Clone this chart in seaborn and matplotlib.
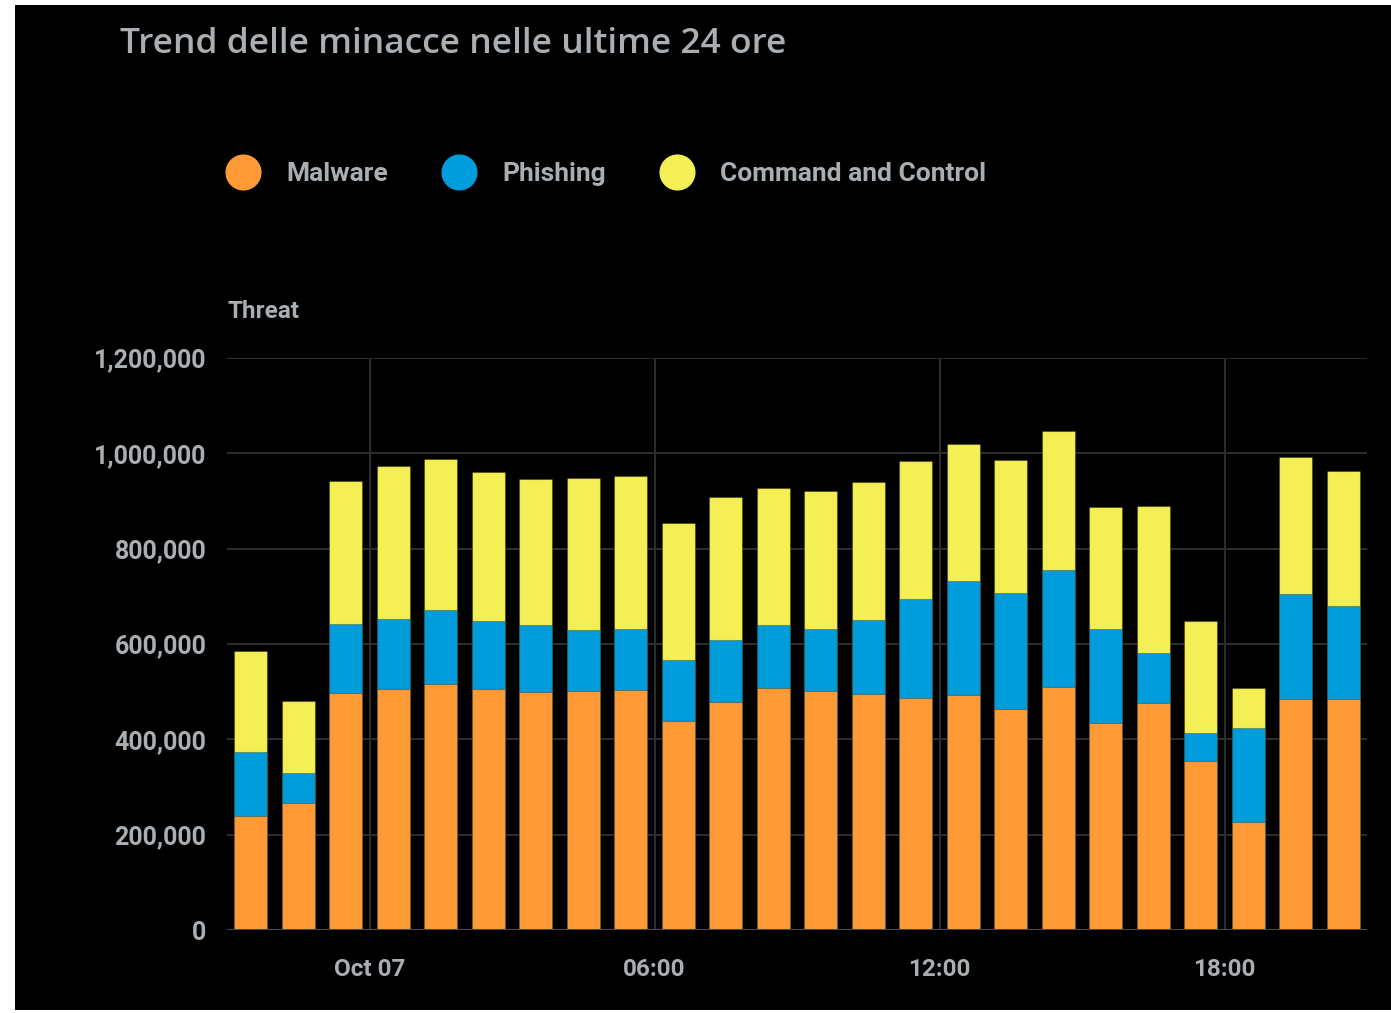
import matplotlib
matplotlib.use("Agg")
import matplotlib.pyplot as plt
from matplotlib.lines import Line2D
from matplotlib.patches import Rectangle
import seaborn as sns
import pandas as pd
import numpy as np

# ---- data ----
hours = ["21:00", "22:00", "23:00", "00:00", "01:00", "02:00", "03:00", "04:00",
         "05:00", "06:00", "07:00", "08:00", "09:00", "10:00", "11:00", "12:00",
         "13:00", "14:00", "15:00", "16:00", "17:00", "18:00", "19:00", "20:00"]
malware = [239000, 266000, 497000, 506000, 516000, 506000, 499000, 501000,
           503000, 438000, 478000, 508000, 501000, 495000, 487000, 493000,
           464000, 510000, 434000, 476000, 355000, 227000, 485000, 485000]
phishing = [134000, 63000, 146000, 146000, 155000, 142000, 141000, 128000,
            128000, 128000, 130000, 132000, 130000, 155000, 207000, 239000,
            243000, 245000, 197000, 105000, 58000, 197000, 220000, 195000]
cnc = [212000, 151000, 300000, 321000, 317000, 313000, 306000, 319000,
       321000, 288000, 300000, 287000, 290000, 290000, 290000, 288000,
       279000, 292000, 256000, 309000, 235000, 84000, 287000, 283000]
series_names = ["Malware", "Phishing", "Command and Control"]
series_colors = ["#FF9A36", "#009CDB", "#F4EF55"]
y_ticks = [0, 200000, 400000, 600000, 800000, 1000000, 1200000]
x_tick_pos = [2.5, 8.5, 14.5, 20.5]
x_tick_labels = ["Oct 07", "06:00", "12:00", "18:00"]
title = "Trend delle minacce nelle ultime 24 ore"
y_label = "Threat"

df = pd.DataFrame({"hour": hours, "Malware": malware,
                   "Phishing": phishing, "Command and Control": cnc})
df["mp"] = df["Malware"] + df["Phishing"]
df["total"] = df["mp"] + df["Command and Control"]

sns.set_theme(style="dark")
plt.rcParams["font.family"] = ["Roboto", "DejaVu Sans"]
TXT = "#A9AEB3"

W, H = 1391, 1013
fig = plt.figure(figsize=(W / 100, H / 100), dpi=100, facecolor="white")
fig.patches.append(Rectangle((15 / W, 3 / H), 1 - 15 / W, 1 - 8 / H,
                             transform=fig.transFigure, facecolor="black",
                             edgecolor="none", zorder=-10))

ax = fig.add_axes([227 / W, 83 / H, (1367 - 227) / W, (930 - 358) / H])
ax.set_facecolor("black")

order = hours
for col, c in [("total", series_colors[2]), ("mp", series_colors[1]),
               ("Malware", series_colors[0])]:
    sns.barplot(data=df, x="hour", y=col, order=order, color=c, width=0.7,
                saturation=1, edgecolor=(0, 0, 0, 0.25), linewidth=0.8,
                ax=ax, zorder=3)

ax.set_xlim(-0.5, 23.5)
ax.set_ylim(0, 1200000)
ax.set_yticks(y_ticks)
ax.set_yticklabels([f"{v:,}" for v in y_ticks])
ax.set_xticks(x_tick_pos)
ax.set_xticklabels(x_tick_labels)
ax.set_xlabel("")
ax.set_ylabel("")
ax.tick_params(axis="both", length=0, colors=TXT)
ax.tick_params(axis="y", pad=15, labelsize=18)
ax.tick_params(axis="x", pad=20, labelsize=17.5)
for lab in ax.get_xticklabels() + ax.get_yticklabels():
    lab.set_fontweight("bold")
    lab.set_color(TXT)

for s in ax.spines.values():
    s.set_visible(False)
for v in y_ticks[1:]:
    ax.axhline(v, color="#2C2C2C", lw=1.5, zorder=1)
ax.axhline(0, color="#4A4A4A", lw=1.5, zorder=4)
for xp in x_tick_pos:
    ax.axvline(xp, color="#2C2C2C", lw=1.5, zorder=1)

fig.text(120 / W, 1 - 44 / H, title, fontsize=25.5, color=TXT, va="center",
         ha="left", fontweight="semibold", family=["Open Sans", "DejaVu Sans"])
fig.text(228 / W, 1 - 311 / H, y_label, fontsize=17.5, color=TXT,
         fontweight="bold", va="center", ha="left")

handles = [Line2D([], [], marker="o", linestyle="", markersize=25,
                  markerfacecolor=c, markeredgecolor=c) for c in series_colors]
leg = fig.legend(handles, series_names, loc="center left",
                 bbox_to_anchor=(224.5 / W, 1 - 174 / H), ncol=3, frameon=False,
                 fontsize=19, handlelength=1.4, handletextpad=0.93,
                 columnspacing=2.0, borderpad=0, borderaxespad=0)
for t in leg.get_texts():
    t.set_color(TXT)
    t.set_fontweight("bold")

fig.savefig("out.png", dpi=100, facecolor="white")
